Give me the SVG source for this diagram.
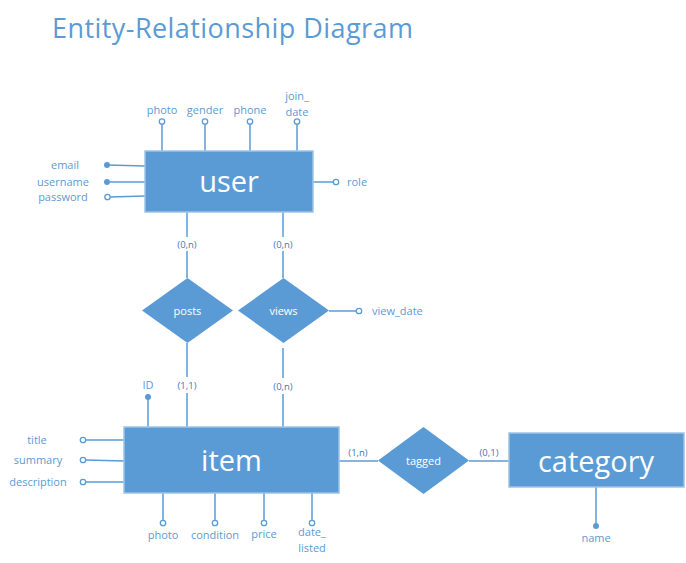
<svg xmlns="http://www.w3.org/2000/svg" width="686" height="563" viewBox="0 0 686 563">
<style>
text{font-family:"Open Sans","Liberation Sans",sans-serif}
.title{font-size:27px;fill:#5B9BD5}
.ent{fill:#5B9BD5;stroke:#9DC3E6;stroke-width:1.5}
.rel{fill:#5B9BD5}
.big{font-size:29px;fill:#fff;text-anchor:middle;dominant-baseline:central}
.rt{font-size:11px;fill:#fff;text-anchor:middle;dominant-baseline:central}
.lbl{font-size:11px;fill:#5B9BD5;dominant-baseline:central}
.c{text-anchor:middle}
.card{font-size:9.5px;fill:#4a74b4;text-anchor:middle;dominant-baseline:central}
.ln{stroke:#5B9BD5;stroke-width:1.5;fill:none}
.o{fill:#fff;stroke:#5B9BD5;stroke-width:1.3}
.f{fill:#5B9BD5}
</style>
<rect width="686" height="563" fill="#fff"/>
<text class="title" x="52" y="38" textLength="361">Entity-Relationship Diagram</text>

<g id="connectors">
<line class="ln" x1="162" y1="124" x2="162" y2="151"/>
<line class="ln" x1="205" y1="124" x2="205" y2="151"/>
<line class="ln" x1="250" y1="124" x2="250" y2="151"/>
<line class="ln" x1="297" y1="124" x2="297" y2="151"/>
<line class="ln" x1="107" y1="165" x2="145" y2="166"/>
<line class="ln" x1="107" y1="182" x2="145" y2="182"/>
<line class="ln" x1="110" y1="197" x2="145" y2="196"/>
<line class="ln" x1="313" y1="182" x2="333" y2="182"/>
<line class="ln" x1="187" y1="212" x2="187" y2="237"/>
<line class="ln" x1="187" y1="251" x2="187" y2="278"/>
<line class="ln" x1="283" y1="212" x2="283" y2="237"/>
<line class="ln" x1="283" y1="251" x2="283" y2="278"/>
<line class="ln" x1="329" y1="311" x2="356" y2="311"/>
<line class="ln" x1="187" y1="343" x2="187" y2="377"/>
<line class="ln" x1="187" y1="393" x2="187" y2="427"/>
<line class="ln" x1="283" y1="348" x2="283" y2="378"/>
<line class="ln" x1="283" y1="394" x2="283" y2="427"/>
<line class="ln" x1="148" y1="397" x2="148" y2="427"/>
<line class="ln" x1="86" y1="440" x2="124" y2="440"/>
<line class="ln" x1="86" y1="460" x2="124" y2="461"/>
<line class="ln" x1="86" y1="482" x2="124" y2="482"/>
<line class="ln" x1="163" y1="493" x2="163" y2="520"/>
<line class="ln" x1="215" y1="493" x2="215" y2="520"/>
<line class="ln" x1="264" y1="493" x2="264" y2="520"/>
<line class="ln" x1="312" y1="493" x2="312" y2="520"/>
<line class="ln" x1="339" y1="461" x2="378" y2="461"/>
<line class="ln" x1="469" y1="461" x2="509" y2="461"/>
<line class="ln" x1="596" y1="487" x2="596" y2="526"/>
</g>

<g id="user">
<rect class="ent" x="145" y="151" width="168" height="61"/>
<text class="big" x="229" y="180">user</text>
</g>
<g id="user-attrs">
<circle class="o" cx="162" cy="121.5" r="2.7"/><text class="lbl c" x="162" y="109">photo</text>
<circle class="o" cx="205" cy="121.5" r="2.7"/><text class="lbl c" x="205" y="109">gender</text>
<circle class="o" cx="250" cy="121.5" r="2.7"/><text class="lbl c" x="250" y="109">phone</text>
<circle class="o" cx="297" cy="121.5" r="2.7"/><text class="lbl c" x="297" y="95">join_</text><text class="lbl c" x="297" y="111">date</text>
<circle class="f" cx="107" cy="165" r="3"/><text class="lbl c" x="65" y="164">email</text>
<circle class="f" cx="107" cy="182" r="3"/><text class="lbl c" x="63" y="181">username</text>
<circle class="o" cx="107.5" cy="197" r="2.7"/><text class="lbl c" x="63" y="196">password</text>
<circle class="o" cx="336" cy="182" r="2.7"/><text class="lbl" x="347" y="181">role</text>
</g>
<g id="cards">
<text class="card" x="187" y="244">(0,n)</text>
<text class="card" x="283" y="244">(0,n)</text>
<text class="card" x="187" y="385">(1,1)</text>
<text class="card" x="283" y="386">(0,n)</text>
<text class="card" x="358" y="452">(1,n)</text>
<text class="card" x="489" y="452">(0,1)</text>
</g>
<g id="posts">
<polygon class="rel" points="187.5,278 233,310.5 187.5,343 142,310.5"/>
<text class="rt" x="187.5" y="310">posts</text>
</g>
<g id="views">
<polygon class="rel" points="283.5,278 329,310.5 283.5,343 238,310.5"/>
<text class="rt" x="283.5" y="310">views</text>
<circle class="o" cx="359" cy="311" r="2.7"/><text class="lbl" x="372" y="310">view_date</text>
</g>
<g id="item">
<rect class="ent" x="124" y="427" width="215" height="66"/>
<text class="big" x="231.5" y="459">item</text>
</g>
<g id="item-attrs">
<circle class="f" cx="148" cy="397" r="3"/><text class="lbl c" x="148" y="384">ID</text>
<circle class="o" cx="83" cy="440" r="2.7"/><text class="lbl c" x="37" y="439">title</text>
<circle class="o" cx="83" cy="460" r="2.7"/><text class="lbl c" x="38" y="459">summary</text>
<circle class="o" cx="83" cy="482" r="2.7"/><text class="lbl c" x="38" y="481">description</text>
<circle class="o" cx="163" cy="523" r="2.7"/><text class="lbl c" x="163" y="534">photo</text>
<circle class="o" cx="215" cy="523" r="2.7"/><text class="lbl c" x="215" y="534">condition</text>
<circle class="o" cx="264" cy="523" r="2.7"/><text class="lbl c" x="264" y="533">price</text>
<circle class="o" cx="312" cy="523" r="2.7"/><text class="lbl c" x="312" y="531">date_</text><text class="lbl c" x="312" y="547">listed</text>
</g>
<g id="tagged">
<polygon class="rel" points="423.5,427 469,460.5 423.5,494 378,460.5"/>
<text class="rt" x="423.5" y="460">tagged</text>
</g>
<g id="category">
<rect class="ent" x="509" y="433" width="175" height="54"/>
<text class="big" x="596" y="460">category</text>
<circle class="f" cx="596" cy="526" r="3"/><text class="lbl c" x="596" y="537">name</text>
</g>
</svg>
